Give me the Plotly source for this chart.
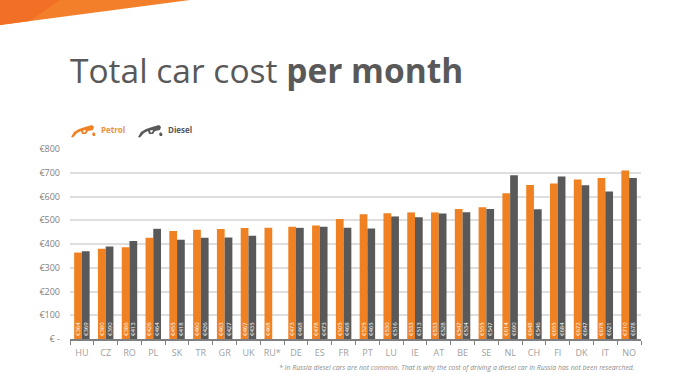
import plotly.graph_objects as go

categories = ["HU","CZ","RO","PL","SK","TR","GR","UK","RU*","DE","ES","FR","PT","LU","IE","AT","BE","SE","NL","CH","FI","DK","IT","NO"]
petrol = [364,380,386,426,455,460,463,467,468,473,478,505,525,530,533,533,547,555,614,648,655,672,678,710]
diesel = [369,390,413,464,418,426,427,435,None,468,473,468,465,516,513,528,534,547,690,546,684,647,621,678]
petrol_labels = ["€364","€380","€386","€426","€455","€460","€463","€467","€468","€473","€478","€505","€525","€530","€533","€533","€547","€555","€614","€648","€655","€672","€678","€710"]
diesel_labels = ["€369","€390","€413","€464","€418","€426","€427","€435","","€468","€473","€468","€465","€516","€513","€528","€534","€547","€690","€546","€684","€647","€621","€678"]
y_ticks = [0,100,200,300,400,500,600,700,800]
y_labels = ["€ -","€100","€200","€300","€400","€500","€600","€700","€800"]

W, H = 676, 390
L, R, T, B = 70, 641, 149, 339
ORANGE, GREY = "#F08122", "#595959"
def px(x): return (x - L) / (R - L)
def py(y): return (B - y) / (B - T)
def path(points):
    return "M" + " L".join(f"{px(x):.4f},{py(y):.4f}" for x, y in points) + " Z"

def nozzle(x0, color):
    body = [(0,13),(3,8),(8,5),(14,3),(21,1),(23,3),(22,6),(17,7),(15,10),(11,10),(10,7),(6,9),(2,13.5)]
    hole = [(12,6.5),(15,6),(14,8.5),(12.5,8.5)]
    drop = [(22.5,8),(24.5,10),(24,12),(22,12),(21,10)]
    s = []
    for pts, c in ((body, color), (hole, "#FFFFFF"), (drop, color)):
        s.append(dict(type="path", xref="paper", yref="paper",
                      path=path([(x0 + x, 124 + y) for x, y in pts]),
                      fillcolor=c, line=dict(width=0), layer="above"))
    return s

fig = go.Figure()
label_font = dict(size=6, color="#FFFFFF", family="Open Sans")
fig.add_bar(name="Petrol", x=categories, y=petrol, marker_color=ORANGE, marker_line_width=0,
            text=petrol_labels, textposition="inside", insidetextanchor="start", textangle=-90,
            constraintext="none", textfont=label_font, cliponaxis=False)
fig.add_bar(name="Diesel", x=categories, y=diesel, marker_color=GREY, marker_line_width=0,
            text=diesel_labels, textposition="inside", insidetextanchor="start", textangle=-90,
            constraintext="none", textfont=label_font, cliponaxis=False)

banner = [
    dict(type="path", xref="paper", yref="paper", path=path([(0,0),(190,0),(0,25)]),
         fillcolor="#F47F2A", line=dict(width=0)),
    dict(type="path", xref="paper", yref="paper", path=path([(0,0),(60,0),(30,21),(0,25)]),
         fillcolor="#F26F26", line=dict(width=0)),
]

fig.update_layout(
    width=W, height=H, showlegend=False, barmode="group", bargap=0.35, bargroupgap=0,
    paper_bgcolor="#FFFFFF", plot_bgcolor="#FFFFFF",
    margin=dict(l=L, r=W-R, t=T, b=H-B, pad=0),
    font=dict(family="Open Sans", color="#7F7F7F"),
    shapes=banner + nozzle(71, ORANGE) + nozzle(138, GREY),
    annotations=[
        dict(text="Total car cost <b>per month</b>", x=px(68), y=py(70), xref="paper", yref="paper",
             xanchor="left", yanchor="middle", showarrow=False,
             font=dict(size=33.5, color="#595959", family="Open Sans")),
        dict(text="<b>Petrol</b>", x=px(99), y=py(130), xref="paper", yref="paper", xanchor="left",
             yanchor="middle", showarrow=False, font=dict(size=8, color="#E8923C")),
        dict(text="<b>Diesel</b>", x=px(166), y=py(130), xref="paper", yref="paper", xanchor="left",
             yanchor="middle", showarrow=False, font=dict(size=8, color="#595959")),
        dict(text="<i>* In Russia diesel cars are not common. That is why the cost of driving a diesel car in Russia has not been researched.</i>",
             x=px(637), y=py(367), xref="paper", yref="paper", xanchor="right", yanchor="middle",
             showarrow=False, font=dict(size=6.9, color="#8C8C8C")),
    ],
    xaxis=dict(type="category", tickson="boundaries", ticks="outside", ticklen=4, tickwidth=1,
               tickcolor="#7F7F7F", showline=True, linecolor="#7F7F7F", linewidth=1.5,
               showgrid=False, tickfont=dict(size=9, color="#A0A0A0"), tickangle=0,
               ticklabelstandoff=4),
    yaxis=dict(range=[0,800], tickvals=y_ticks, ticktext=y_labels, showgrid=True,
               gridcolor="#DEDEDE", gridwidth=1.5, zeroline=False, ticks="", ticklabelstandoff=9,
               tickfont=dict(size=9, color="#7F7F7F")),
)
fig.write_html("out.html", config=dict(displayModeBar=False),
               post_script="document.body.style.margin='0';document.documentElement.style.overflow='hidden';")
